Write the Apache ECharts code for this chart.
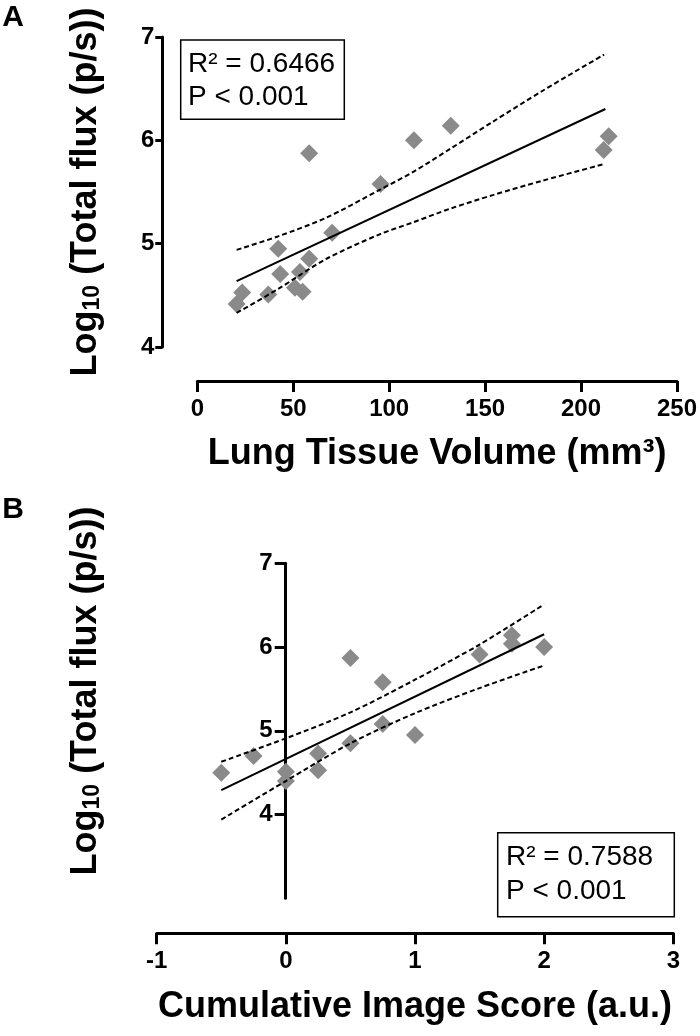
<!DOCTYPE html>
<html>
<head>
<meta charset="utf-8">
<script src="https://cdn.jsdelivr.net/npm/echarts@6/dist/echarts.min.js"></script>
<style>
html,body{margin:0;padding:0;background:#fff;}
#chart{width:700px;height:1036px;}
</style>
</head>
<body>
<div id="chart"></div>
<script>
// ---------- Panel A data ----------
const volumeA = [20.5, 23.4, 37.0, 42.2, 43.2, 50.9, 53.5, 54.9, 58.3, 58.3, 70.3, 95.5, 112.9, 132.1, 211.8, 214.4];
const fluxA   = [4.415, 4.528, 4.509, 4.950, 4.706, 4.573, 4.725, 4.534, 4.854, 5.874, 5.106, 5.577, 6.000, 6.140, 5.906, 6.040];
const fitAx   = [20.5, 212.7];
const fitAy   = [4.638, 6.303];
const bandAx  = [20.5, 42, 67, 95, 113, 132, 154, 180, 212];
const upperAy = [4.94, 5.07, 5.25, 5.52, 5.70, 5.92, 6.18, 6.48, 6.83];
const lowerAy = [4.33, 4.56, 4.85, 5.09, 5.21, 5.34, 5.47, 5.61, 5.77];

// ---------- Panel B data ----------
const scoreB  = [-0.5, -0.25, 0, 0, 0.25, 0.25, 0.5, 0.5, 0.75, 0.75, 1.0, 1.5, 1.75, 1.75, 2.0];
const fluxB   = [4.50, 4.70, 4.51, 4.40, 4.73, 4.53, 4.85, 5.87, 5.58, 5.08, 4.95, 5.91, 6.14, 6.04, 6.00];
const fitBx   = [-0.5, 2.0];
const fitBy   = [4.292, 6.153];
const bandBx  = [-0.5, 0, 0.5, 1.0, 1.5, 2.0];
const upperBy = [4.63, 4.91, 5.22, 5.61, 6.03, 6.51];
const lowerBy = [3.94, 4.40, 4.85, 5.21, 5.51, 5.78];

// ---------- Ticks & text ----------
const xTicksA = [0, 50, 100, 150, 200, 250];
const yTicksA = [4, 5, 6, 7];
const xTicksB = [-1, 0, 1, 2, 3];
const yTicksB = [4, 5, 6, 7];
const xTitleA = 'Lung Tissue Volume (mm³)';
const xTitleB = 'Cumulative Image Score (a.u.)';
const yTitle  = 'Log{sub|10} (Total flux (p/s))';
const statsA  = ['R² = 0.6466', 'P < 0.001'];
const statsB  = ['R² = 0.7588', 'P < 0.001'];

const FONT = '"Liberation Sans", Arial, Helvetica, sans-serif';
const zip = (a, b) => a.map((v, i) => [v, b[i]]);

function xAxisCfg(grid, ticks, title, offset, nameGap) {
  return {
    type: 'value', gridIndex: grid,
    min: ticks[0], max: ticks[ticks.length - 1], interval: ticks[1] - ticks[0],
    offset: offset,
    axisLine: { show: true, onZero: false, lineStyle: { color: '#000', width: 3 } },
    axisTick: { show: true, length: 11, lineStyle: { color: '#000', width: 3 } },
    axisLabel: { color: '#000', fontSize: 24, fontWeight: 'bold', fontFamily: FONT, margin: 16 },
    splitLine: { show: false },
    name: title, nameLocation: 'middle', nameGap: nameGap,
    nameTextStyle: { color: '#000', fontSize: 36, fontWeight: 'bold', fontFamily: FONT }
  };
}

const option = {
  animation: false,
  backgroundColor: '#fff',
  grid: [
    { left: 197.3, top: 37, width: 480, height: 310, containLabel: false },
    { left: 156.7, top: 563.3, width: 516.6, height: 335, containLabel: false }
  ],
  xAxis: [
    xAxisCfg(0, xTicksA, xTitleA, 34, 55),
    xAxisCfg(1, xTicksB, xTitleB, 35, 56)
  ],
  yAxis: [
    {
      type: 'value', gridIndex: 0, min: yTicksA[0], max: yTicksA[yTicksA.length - 1], interval: 1,
      offset: 35,
      axisLine: { show: true, onZero: false, lineStyle: { color: '#000', width: 3 } },
      axisTick: { show: true, length: 7, lineStyle: { color: '#000', width: 3 } },
      axisLabel: { color: '#000', fontSize: 24, fontWeight: 'bold', fontFamily: FONT, margin: 8 },
      splitLine: { show: false }
    },
    {
      type: 'value', gridIndex: 1, min: 3, max: 7, interval: 1,
      offset: -129,
      axisLine: { show: true, onZero: false, lineStyle: { color: '#000', width: 3 } },
      axisTick: { show: true, length: 11, customValues: yTicksB, lineStyle: { color: '#000', width: 3 } },
      axisLabel: { color: '#000', fontSize: 24, fontWeight: 'bold', fontFamily: FONT, margin: 13,
                   customValues: yTicksB, formatter: v => (v === 3 ? '' : String(v)) },
      splitLine: { show: false }
    }
  ],
  series: [
    // Panel A
    { type: 'line', xAxisIndex: 0, yAxisIndex: 0, data: zip(fitAx, fitAy), symbol: 'none',
      lineStyle: { color: '#000', width: 2 }, z: 3 },
    { type: 'line', xAxisIndex: 0, yAxisIndex: 0, data: zip(bandAx, upperAy), symbol: 'none', smooth: 0.3,
      lineStyle: { color: '#000', width: 2, type: [5, 3] }, z: 3 },
    { type: 'line', xAxisIndex: 0, yAxisIndex: 0, data: zip(bandAx, lowerAy), symbol: 'none', smooth: 0.3,
      lineStyle: { color: '#000', width: 2, type: [5, 3] }, z: 3 },
    { type: 'scatter', xAxisIndex: 0, yAxisIndex: 0, data: zip(volumeA, fluxA), symbol: 'diamond',
      symbolSize: 18, itemStyle: { color: '#8a8a8a', opacity: 1 }, z: 2 },
    // Panel B
    { type: 'line', xAxisIndex: 1, yAxisIndex: 1, data: zip(fitBx, fitBy), symbol: 'none',
      lineStyle: { color: '#000', width: 2 }, z: 3 },
    { type: 'line', xAxisIndex: 1, yAxisIndex: 1, data: zip(bandBx, upperBy), symbol: 'none', smooth: 0.3,
      lineStyle: { color: '#000', width: 2, type: [5, 3] }, z: 3 },
    { type: 'line', xAxisIndex: 1, yAxisIndex: 1, data: zip(bandBx, lowerBy), symbol: 'none', smooth: 0.3,
      lineStyle: { color: '#000', width: 2, type: [5, 3] }, z: 3 },
    { type: 'scatter', xAxisIndex: 1, yAxisIndex: 1, data: zip(scoreB, fluxB), symbol: 'diamond',
      symbolSize: 18, itemStyle: { color: '#8a8a8a', opacity: 1 }, z: 2 }
  ],
  graphic: [
    // panel letters
    { type: 'text', x: 13, y: 18, style: { text: 'A', font: 'bold 30px ' + FONT, fill: '#000', align: 'center', verticalAlign: 'middle' } },
    { type: 'text', x: 13, y: 510, style: { text: 'B', font: 'bold 30px ' + FONT, fill: '#000', align: 'center', verticalAlign: 'middle' } },
    // y titles
    { type: 'text', x: 86, y: 192, rotation: Math.PI / 2,
      style: { text: yTitle, fontSize: 36, fontWeight: 'bold', fontFamily: FONT, fill: '#000', align: 'center', verticalAlign: 'middle',
               rich: { sub: { fontSize: 23, fontWeight: 'bold', fontFamily: FONT, fill: '#000', verticalAlign: 'bottom', padding: [14, 0, 0, 0] } } } },
    { type: 'text', x: 86, y: 691, rotation: Math.PI / 2,
      style: { text: yTitle, fontSize: 36, fontWeight: 'bold', fontFamily: FONT, fill: '#000', align: 'center', verticalAlign: 'middle',
               rich: { sub: { fontSize: 23, fontWeight: 'bold', fontFamily: FONT, fill: '#000', verticalAlign: 'bottom', padding: [14, 0, 0, 0] } } } },
    // stats box A
    { type: 'rect', shape: { x: 180.7, y: 40, width: 163.6, height: 79.3 },
      style: { fill: '#fff', stroke: '#000', lineWidth: 1.5 }, z: 10 },
    { type: 'text', x: 188, y: 64, z: 11, style: { text: statsA[0], font: '28px ' + FONT, fill: '#000', align: 'left', verticalAlign: 'middle' } },
    { type: 'text', x: 188, y: 97, z: 11, style: { text: statsA[1], font: '28px ' + FONT, fill: '#000', align: 'left', verticalAlign: 'middle' } },
    // stats box B
    { type: 'rect', shape: { x: 497.7, y: 832.7, width: 176.6, height: 84 },
      style: { fill: '#fff', stroke: '#000', lineWidth: 1.5 }, z: 10 },
    { type: 'text', x: 506, y: 857, z: 11, style: { text: statsB[0], font: '28px ' + FONT, fill: '#000', align: 'left', verticalAlign: 'middle' } },
    { type: 'text', x: 506, y: 891, z: 11, style: { text: statsB[1], font: '28px ' + FONT, fill: '#000', align: 'left', verticalAlign: 'middle' } }
  ]
};

const chart = echarts.init(document.getElementById('chart'), null, { renderer: 'canvas', width: 700, height: 1036 });
chart.setOption(option);
</script>
</body>
</html>
